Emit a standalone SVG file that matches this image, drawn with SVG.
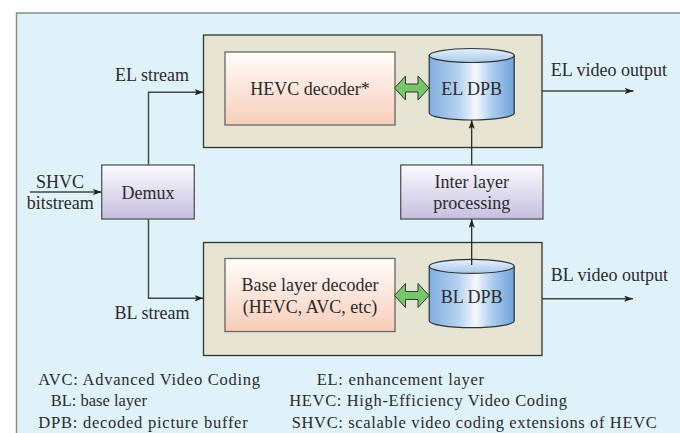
<svg xmlns="http://www.w3.org/2000/svg" width="680" height="433" viewBox="0 0 680 433">
  <style>
    text { fill: #2b2b2b; }
    .lbl { font-size: 18px; }
    .mid { text-anchor: middle; }
    .legend { font-size: 16.5px; }
    .container { fill: #e6e4d2; stroke: #333; stroke-width: 1.3; }
    .decoder { fill: url(#gDecoder); stroke: #666; stroke-width: 1.3; }
    .proc { fill: url(#gProc); stroke: #555; stroke-width: 1.3; }
    .cylBody { fill: url(#gCyl); stroke: #333; stroke-width: 1.2; }
    .cylTop { fill: url(#gCylTop); stroke: #333; stroke-width: 1.2; }
    .dbl { fill: #76c46c; stroke: #2c3d2a; stroke-width: 1; }
    .flow { fill: none; stroke: #444; stroke-width: 1.4; }
    .link { fill: none; stroke: #1e1e1e; stroke-width: 1.2; }
  </style>
  <defs>
    <linearGradient id="gDecoder" x1="0" y1="0" x2="0" y2="1">
      <stop offset="0" stop-color="#fffdfb"/>
      <stop offset="1" stop-color="#f8cdb9"/>
    </linearGradient>
    <linearGradient id="gProc" x1="0" y1="0" x2="0" y2="1">
      <stop offset="0" stop-color="#fbfaff"/>
      <stop offset="1" stop-color="#c6bfe0"/>
    </linearGradient>
    <linearGradient id="gCyl" x1="0" y1="0" x2="1" y2="0">
      <stop offset="0" stop-color="#7eaee0"/>
      <stop offset="0.35" stop-color="#b6d3f0"/>
      <stop offset="0.55" stop-color="#f4f8fc"/>
      <stop offset="0.75" stop-color="#a9cbee"/>
      <stop offset="1" stop-color="#6fa3da"/>
    </linearGradient>
    <linearGradient id="gCylTop" x1="0" y1="0" x2="0" y2="1">
      <stop offset="0" stop-color="#e6f1fb"/>
      <stop offset="1" stop-color="#a6caee"/>
    </linearGradient>
    <marker id="arr" viewBox="0 0 10 7" refX="10" refY="3.5" markerWidth="9" markerHeight="6.3" markerUnits="userSpaceOnUse" orient="auto">
      <path d="M0,0 L10,3.5 L0,7 L2.5,3.5 Z" fill="#222"/>
    </marker>
  </defs>

  <!-- page and panel background -->
  <rect x="0" y="0" width="680" height="433" fill="#ffffff"/>
  <rect x="16.5" y="13" width="680" height="440" fill="#dff2fa" stroke="#8a8a8a" stroke-width="1.5"/>

  <g font-family="'Liberation Serif', 'DejaVu Serif', serif">
  <!-- layer containers -->
  <g id="el-layer">
    <rect class="container" x="203.5" y="35" width="338.5" height="112.5"/>
  </g>
  <g id="bl-layer">
    <rect class="container" x="203.5" y="242.5" width="338.5" height="113"/>
  </g>

  <g id="hevc-decoder">
    <rect class="decoder" x="225" y="52" width="170" height="73"/>
    <text class="lbl mid" x="310" y="95">HEVC decoder*</text>
  </g>

  <g id="el-dpb">
    <path class="cylBody" d="M429.2,55.5 L429.2,113 A42.5,7 0 0 0 514.2,113 L514.2,55.5 Z"/>
    <ellipse class="cylTop" cx="471.7" cy="55.5" rx="42.5" ry="7"/>
    <text class="lbl mid" x="471.7" y="95">EL DPB</text>
  </g>

  <g id="demux">
    <rect class="proc" x="101.7" y="165" width="92.6" height="54"/>
    <text class="lbl mid" x="148" y="199">Demux</text>
  </g>

  <g id="inter-layer">
    <rect class="proc" x="400.7" y="165" width="142.3" height="54"/>
    <text class="lbl mid" x="471.7" y="188">Inter layer</text>
    <text class="lbl mid" x="471.7" y="209">processing</text>
  </g>

  <g id="bl-decoder">
    <rect class="decoder" x="225" y="258.5" width="170" height="73"/>
    <text class="lbl mid" x="310" y="291">Base layer decoder</text>
    <text class="lbl mid" x="310" y="312.5">(HEVC, AVC, etc)</text>
  </g>

  <g id="bl-dpb">
    <path class="cylBody" d="M429.2,266.3 L429.2,320.7 A42.5,7 0 0 0 514.2,320.7 L514.2,266.3 Z"/>
    <ellipse class="cylTop" cx="471.7" cy="266.3" rx="42.5" ry="7"/>
    <text class="lbl mid" x="471.7" y="302.5">BL DPB</text>
  </g>

  <!-- connectors -->
  <g id="connectors">
    <!-- decoder <-> picture buffer exchange -->
    <path class="dbl" d="M394.5,88 L405.5,76 L405.5,84 L418,84 L418,76 L429,88 L418,100 L418,92 L405.5,92 L405.5,100 Z"/>
    <path class="dbl" d="M394.5,295.5 L405.5,283.5 L405.5,291.5 L418,291.5 L418,283.5 L429,295.5 L418,307.5 L418,299.5 L405.5,299.5 L405.5,307.5 Z"/>

    <!-- input bitstream -->
    <line class="flow" x1="30" y1="192" x2="101.7" y2="192" marker-end="url(#arr)"/>
    <!-- demux outputs -->
    <polyline class="flow" points="148.5,165 148.5,92.3 203.5,92.3" marker-end="url(#arr)"/>
    <polyline class="flow" points="148.5,219 148.5,298.3 203.5,298.3" marker-end="url(#arr)"/>

    <!-- inter-layer path -->
    <line class="link" x1="471.7" y1="265" x2="471.7" y2="219" marker-end="url(#arr)"/>
    <line class="link" x1="471.7" y1="165" x2="471.7" y2="120" marker-end="url(#arr)"/>

    <!-- video outputs -->
    <line class="flow" x1="542" y1="91" x2="633.5" y2="91" marker-end="url(#arr)"/>
    <line class="flow" x1="542" y1="298.7" x2="633" y2="298.7" marker-end="url(#arr)"/>
  </g>

  <!-- connector labels -->
  <g id="labels">
    <text class="lbl mid" x="60" y="188">SHVC</text>
    <text class="lbl mid" x="60.3" y="209">bitstream</text>
    <text class="lbl mid" x="152" y="80.5">EL stream</text>
    <text class="lbl mid" x="152" y="319">BL stream</text>
    <text class="lbl" x="550.7" y="76">EL video output</text>
    <text class="lbl" x="550.7" y="281">BL video output</text>
  </g>

  <!-- abbreviations -->
  <g id="legend">
    <text class="legend" x="38.3" y="385" textLength="221.7" lengthAdjust="spacing">AVC: Advanced Video Coding</text>
    <text class="legend" x="50.7" y="405.7">BL: base layer</text>
    <text class="legend" x="38.3" y="427.5" textLength="209.4" lengthAdjust="spacing">DPB: decoded picture buffer</text>
    <text class="legend" x="316.7" y="385" textLength="167.3" lengthAdjust="spacing">EL: enhancement layer</text>
    <text class="legend" x="289.3" y="405.7" textLength="277.7" lengthAdjust="spacing">HEVC: High-Efficiency Video Coding</text>
    <text class="legend" x="291.7" y="427.5" textLength="365" lengthAdjust="spacing">SHVC: scalable video coding extensions of HEVC</text>
  </g>
  </g>
</svg>
